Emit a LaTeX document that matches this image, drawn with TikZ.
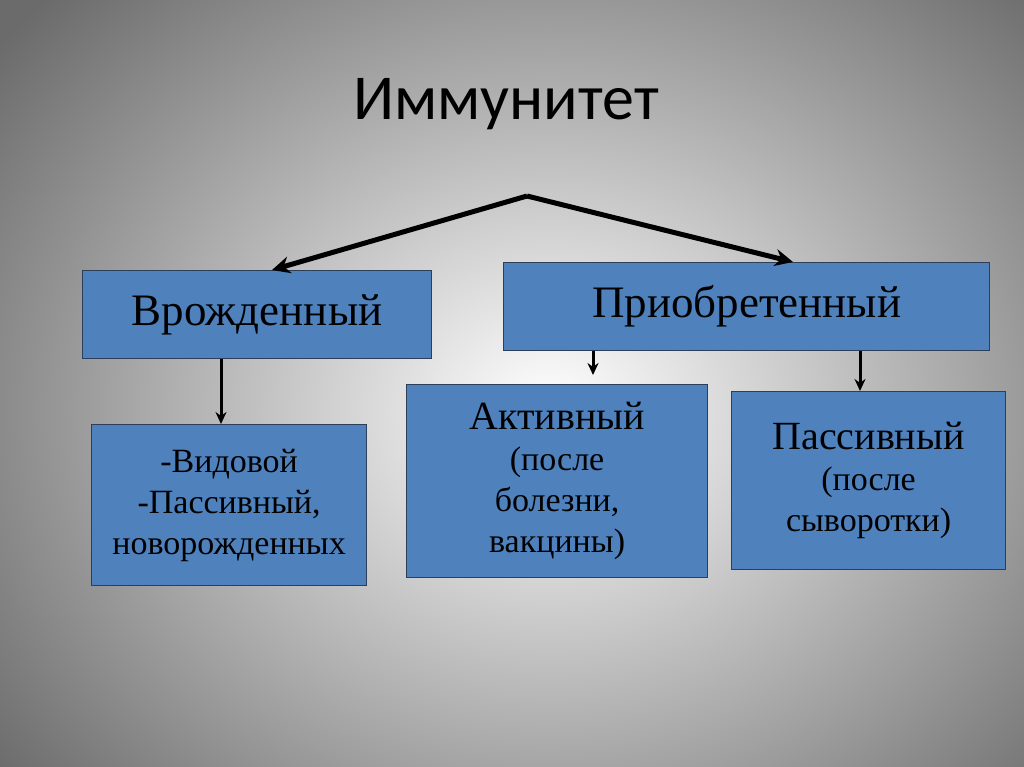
\documentclass[tikz,border=0pt]{standalone}
\usepackage{fontspec}
\setmainfont{Liberation Serif}
\newfontfamily\titlefont{Carlito}
\usetikzlibrary{positioning}
\usetikzlibrary{arrows.meta,calc}
\definecolor{boxblue}{HTML}{4F81BD}
\definecolor{boxline}{HTML}{2C3E5A}
\newcommand{\headline}[1]{{\fontsize{40}{44}\selectfont #1}}
\begin{document}
\begin{tikzpicture}[x=1pt,y=-1pt,
    basic/.style={draw=boxline,line width=1.2pt,fill=boxblue,inner sep=0pt,anchor=north west},
    mainbox/.style={basic,font=\fontsize{45}{50}\selectfont},
    subbox/.style={basic,align=center,font=\fontsize{34}{41}\selectfont},
    bigarrow/.style={line width=5pt,-{Stealth[length=18pt,width=17pt]}},
    smallarrow/.style={line width=3pt,-{Stealth[length=12pt,width=11pt]}},
]
        \useasboundingbox (0,0) rectangle (1024,767);
        \shade[inner color=white,outer color=black!58] (-150,-180) rectangle (1250,1000);
        \node[font=\titlefont\fontsize{64}{68}\selectfont] (title) at (506,104) {Иммунитет};
        \coordinate (apex) at (527,196);
        \node[mainbox,minimum width=349pt,minimum height=88pt] (innate) at (82,270) {\\[-6pt]Врожденный};
        \node[mainbox,minimum width=486pt,minimum height=88pt] (acquired) at (503,262) {Приобретенный\\[-14pt]};
            \draw[bigarrow] (apex) -- ($(innate.north west)+(190,0)$);
            \draw[bigarrow] (apex) -- ($(acquired.north west)+(290,0)$);
        \node[subbox,minimum width=275pt,minimum height=161pt] (species) at (91,424)
            {-Видовой\\-Пассивный,\\новорожденных};
            \draw[smallarrow] ($(innate.south west)+(139,0)$) -- ($(species.north west)+(130,0)$);
        \node[subbox,minimum width=301pt,minimum height=193pt] (active) at (406,384)
            {\headline{Активный}\\(после\\болезни,\\вакцины)};
        \node[subbox,minimum width=274pt,minimum height=178pt] (passive) at (731,391)
            {\headline{Пассивный}\\(после\\сыворотки)};
            \coordinate (actend) at ($(active.north west)+(187,-9)$);
            \draw[smallarrow] ($(acquired.south west)+(90,0)$) -- (actend);
            \draw[smallarrow] ($(acquired.south west)+(357,0)$) -- ($(passive.north west)+(129,0)$);
    \end{tikzpicture}
\end{document}
